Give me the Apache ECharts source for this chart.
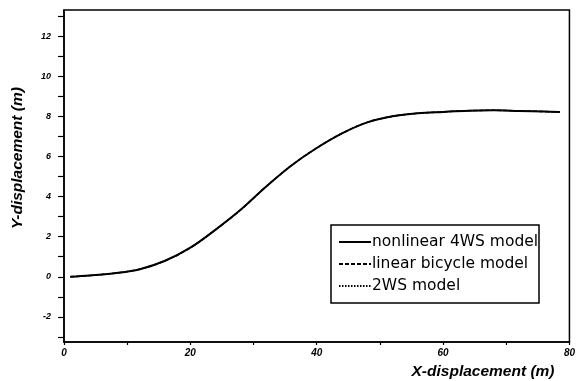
<!DOCTYPE html>
<html>
<head>
<meta charset="utf-8">
<script src="https://cdn.jsdelivr.net/npm/echarts@6/dist/echarts.min.js"></script>
<style>
html,body{margin:0;padding:0;background:#fff;}
#chart{width:578px;height:381px;}
</style>
</head>
<body>
<div id="chart"></div>
<script>
// X-displacement (m)
const xDisp = [1, 4, 8, 12, 16, 20, 24, 28, 32, 36, 40, 44, 48, 52, 56, 60, 64, 68, 72, 76, 78.5];
// Y-displacement (m) per model (curves overlap in the figure)
const nonlinear4WS = [0, 0.06, 0.18, 0.38, 0.8, 1.45, 2.35, 3.35, 4.5, 5.55, 6.42, 7.15, 7.7, 8.0, 8.15, 8.22, 8.28, 8.3, 8.27, 8.24, 8.22];
const linearBicycle = [0, 0.06, 0.18, 0.38, 0.8, 1.45, 2.35, 3.35, 4.5, 5.55, 6.42, 7.15, 7.7, 8.0, 8.15, 8.22, 8.28, 8.3, 8.27, 8.24, 8.22];
const twoWS = [0, 0.06, 0.18, 0.38, 0.8, 1.45, 2.35, 3.35, 4.5, 5.55, 6.42, 7.15, 7.7, 8.0, 8.15, 8.22, 8.28, 8.3, 8.27, 8.24, 8.22];
const seriesNames = ['nonlinear 4WS model', 'linear bicycle model', '2WS model'];
const xTickLabels = [0, 20, 40, 60, 80];
const xTicks = [0, 10, 20, 30, 40, 50, 60, 70, 80];
const yTickLabels = [-2, 0, 2, 4, 6, 8, 10, 12];
const yTicks = [-3, -2, -1, 0, 1, 2, 3, 4, 5, 6, 7, 8, 9, 10, 11, 12, 13];

const pair = arr => xDisp.map((x, i) => [x, arr[i]]);
const labelFont = {fontFamily: 'Liberation Sans', fontWeight: 'bold', fontStyle: 'italic', color: '#000'};

const chart = echarts.init(document.getElementById('chart'), null, {renderer: 'canvas'});
chart.setOption({
  animation: false,
  backgroundColor: '#fff',
  grid: {left: 64, right: 7, top: 10, bottom: 39, show: true, borderColor: '#000', borderWidth: 1.5, backgroundColor: 'transparent'},
  xAxis: {
    type: 'value', min: 0, max: 80,
    axisLine: {show: true, onZero: false, lineStyle: {color: '#000', width: 1.5}},
    axisTick: {show: true, inside: false, length: 3, customValues: xTicks, lineStyle: {color: '#000', width: 1.2}},
    axisLabel: Object.assign({customValues: xTickLabels, fontSize: 10, margin: 6}, labelFont),
    splitLine: {show: false}
  },
  yAxis: {
    type: 'value', min: -3.25, max: 13.3,
    axisLine: {show: true, onZero: false, lineStyle: {color: '#000', width: 1.5}},
    axisTick: {show: true, inside: false, length: 6, customValues: yTicks, lineStyle: {color: '#000', width: 1.2}},
    axisLabel: Object.assign({customValues: yTickLabels, fontSize: 9, margin: 13}, labelFont),
    splitLine: {show: false}
  },
  legend: {
    orient: 'vertical', left: 338, top: 234, padding: 0,
    itemWidth: 32, itemHeight: 14, itemGap: 6,
    data: seriesNames,
    itemStyle: {opacity: 0},
    textStyle: {fontFamily: 'DejaVu Sans', fontSize: 15.5, color: '#000', lineHeight: 16, padding: [0,0,0,-4]}
  },
  graphic: [
    {type: 'rect', z: -1, shape: {x: 331, y: 225, width: 208, height: 78}, style: {fill: '#fff', stroke: '#000', lineWidth: 1.5}},
    {type: 'text', x: 18, y: 158, rotation: Math.PI / 2, style: {text: 'Y-displacement (m)', fontSize: 15.5, align: 'center', verticalAlign: 'middle', fill: '#000', fontFamily: 'Liberation Sans', fontWeight: 'bold', fontStyle: 'italic'}},
    {type: 'text', x: 483, y: 372, style: {text: 'X-displacement (m)', fontSize: 15.5, align: 'center', verticalAlign: 'middle', fill: '#000', fontFamily: 'Liberation Sans', fontWeight: 'bold', fontStyle: 'italic'}}
  ],
  series: [
    {name: seriesNames[0], type: 'line', data: pair(nonlinear4WS), smooth: 0.35, symbol: 'none', lineStyle: {color: '#000', width: 2, type: 'solid'}, itemStyle: {color: '#000'}},
    {name: seriesNames[1], type: 'line', data: pair(linearBicycle), smooth: 0.35, symbol: 'none', lineStyle: {color: '#000', width: 1.5, type: [4, 2]}, itemStyle: {color: '#000'}},
    {name: seriesNames[2], type: 'line', data: pair(twoWS), smooth: 0.35, symbol: 'none', lineStyle: {color: '#000', width: 1.2, type: [1.5, 1.5]}, itemStyle: {color: '#000'}}
  ]
});
</script>
</body>
</html>
